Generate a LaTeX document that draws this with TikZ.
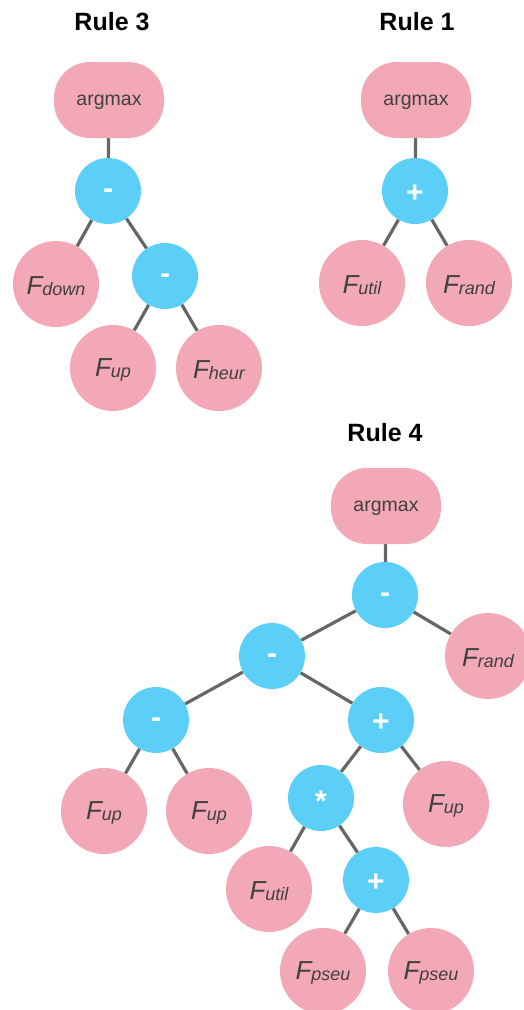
\documentclass[tikz,border=0pt]{standalone}
\usepackage{fontspec}
\setmainfont{Liberation Sans}
\usetikzlibrary{backgrounds}
\definecolor{leafpink}{HTML}{F3A8B7}
\definecolor{opblue}{HTML}{5CCFF9}
\definecolor{edgegray}{HTML}{666666}
\definecolor{labelgray}{HTML}{404040}
% leaf label: italic F with a small italic subscript
\newcommand\flabel[1]{\raisebox{-2pt}[\height][\depth]{\itshape\fontsize{26}{26}\selectfont F\fontsize{18}{18}\selectfont\raisebox{-1.5pt}{#1}}}
% operator symbol, nudged down to sit at the circle centre
\newcommand\opsym[1]{\raisebox{-3pt}[\height][\depth]{#1}}
\newcommand\rootlabel{\raisebox{-2pt}[\height][\depth]{argmax}}
\tikzset{
  leaf/.style={circle, fill=leafpink, minimum size=86pt, inner sep=0pt, text=labelgray},
  opnode/.style={circle, fill=opblue, minimum size=66pt, inner sep=0pt, text=white, font=\bfseries\fontsize{30}{30}\selectfont},
  rootbox/.style={rectangle, rounded corners=36pt, fill=leafpink, minimum width=110pt, minimum height=76pt, inner sep=0pt, text=labelgray, font=\fontsize{19.5}{19.5}\selectfont},
  ruletitle/.style={font=\bfseries\fontsize{25}{25}\selectfont, text=black},
  edge/.style={draw=edgegray, line width=3.2pt}
}
\begin{document}
\begin{tikzpicture}[x=1pt, y=-1pt]
\useasboundingbox (0,0) rectangle (523,1010);

% ---- Rule 3 ----
\node[ruletitle] (t3) at (112,22) {Rule 3};
\node[rootbox] (r3) at (109,100) {\rootlabel};
\node[opnode] (r3a) at (108,191) {\opsym{-}};
\node[leaf] (r3b) at (56,284) {\flabel{down}};
\node[opnode] (r3c) at (165,276) {\opsym{-}};
\node[leaf] (r3d) at (113,368) {\flabel{up}};
\node[leaf] (r3e) at (219,368) {\flabel{heur}};

% ---- Rule 1 ----
\node[ruletitle] (t1) at (417,22) {Rule 1};
\node[rootbox] (r1) at (416,100) {\rootlabel};
\node[opnode] (r1a) at (415,191) {\opsym{+}};
\node[leaf] (r1b) at (362,283) {\flabel{util}};
\node[leaf] (r1c) at (469,283) {\flabel{rand}};

% ---- Rule 4 ----
\node[ruletitle] (t4) at (385,433) {Rule 4};
\node[rootbox] (r4) at (386,506) {\rootlabel};
\node[opnode] (r4a) at (385,595) {\opsym{-}};
\node[leaf] (r4b) at (488,656) {\flabel{rand}};
\node[opnode] (r4c) at (272,656) {\opsym{-}};
\node[opnode] (r4d) at (156,720) {\opsym{-}};
\node[opnode] (r4e) at (381,720) {\opsym{+}};
\node[leaf] (r4f) at (104,811) {\flabel{up}};
\node[leaf] (r4g) at (209,811) {\flabel{up}};
\node[opnode] (r4h) at (321,798) {\opsym{*}};
\node[leaf] (r4i) at (446,804) {\flabel{up}};
\node[leaf] (r4j) at (269,889) {\flabel{util}};
\node[opnode] (r4k) at (376,880) {\opsym{+}};
\node[leaf] (r4l) at (323,971) {\flabel{pseu}};
\node[leaf] (r4m) at (431,971) {\flabel{pseu}};

\begin{scope}[on background layer]
  \draw[edge] (r3) -- (r3a);
  \draw[edge] (r3a) -- (r3b);
  \draw[edge] (r3a) -- (r3c);
  \draw[edge] (r3c) -- (r3d);
  \draw[edge] (r3c) -- (r3e);

  \draw[edge] (r1) -- (r1a);
  \draw[edge] (r1a) -- (r1b);
  \draw[edge] (r1a) -- (r1c);

  \draw[edge] (r4) -- (r4a);
  \draw[edge] (r4a) -- (r4b);
  \draw[edge] (r4a) -- (r4c);
  \draw[edge] (r4c) -- (r4d);
  \draw[edge] (r4c) -- (r4e);
  \draw[edge] (r4d) -- (r4f);
  \draw[edge] (r4d) -- (r4g);
  \draw[edge] (r4e) -- (r4h);
  \draw[edge] (r4e) -- (r4i);
  \draw[edge] (r4h) -- (r4j);
  \draw[edge] (r4h) -- (r4k);
  \draw[edge] (r4k) -- (r4l);
  \draw[edge] (r4k) -- (r4m);
\end{scope}
\end{tikzpicture}
\end{document}
